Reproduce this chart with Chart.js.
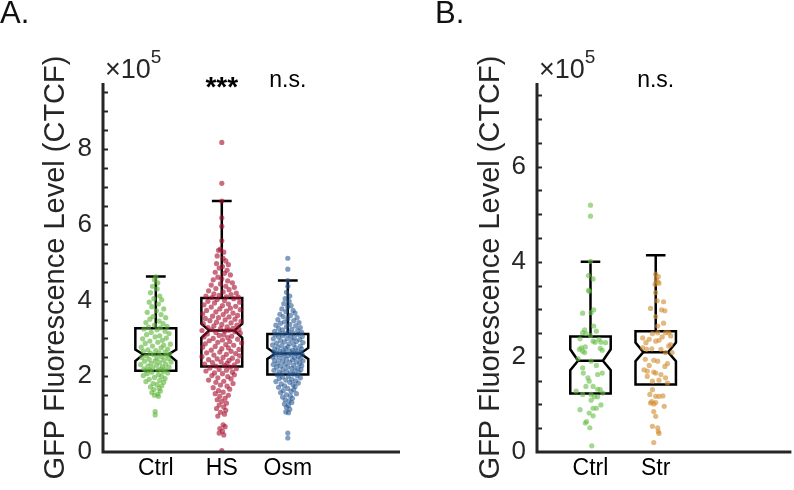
<!DOCTYPE html>
<html>
<head>
<meta charset="utf-8">
<script src="https://cdn.jsdelivr.net/npm/chart.js@4"></script>
<style>
  body { margin: 0; background: #fff; }
  #wrap { position: relative; width: 794px; height: 490px; overflow: hidden; }
  #wrap canvas { position: absolute; top: 0; }
</style>
</head>
<body>
<div id="wrap">
  <canvas id="chartA" width="430" height="490" style="left:0"></canvas>
  <canvas id="chartB" width="364" height="490" style="left:430px"></canvas>
</div>
<script>
// Panel A categories and box stats (values in units of 1e5 CTCF)
const groupsA = ['Ctrl', 'HS', 'Osm'];
const sigA = ['', '***', 'n.s.'];
const q1A = [2.15, 2.26, 2.05];
const medA = [2.58, 3.21, 2.60];
const q3A = [3.27, 4.07, 3.12];
const whiskA = [4.64, 6.63, 4.53];
const notchLoA = [2.40, 3.02, 2.46];
const notchHiA = [2.71, 3.39, 2.75];
const yTicksA = [0, 2, 4, 6, 8];

// Panel B
const groupsB = ['Ctrl', 'Str'];
const sigB = ['', 'n.s.'];
const q1B = [1.23, 1.42];
const medB = [1.92, 2.10];
const q3B = [2.43, 2.54];
const whiskB = [4.00, 4.14];
const notchLoB = [1.72, 1.91];
const notchHiB = [2.16, 2.30];
const yTicksB = [0, 2, 4, 6];

// Individual cells: [jitter (category units), value]
const ctrlA = [[0.00,4.63],[-0.02,4.55],[0.03,4.47],[-0.05,4.38],[0.02,4.31],[-0.08,4.21],[0.06,4.12],[-0.03,4.05],[0.09,4.02],[-0.10,3.96],[0.04,3.91],[-0.06,3.84],[0.12,3.78],[0.01,3.73],[-0.13,3.69],[0.08,3.63],[-0.04,3.58],[0.15,3.55],[-0.09,3.51],[0.05,3.46],[-0.15,3.42],[0.11,3.39],[-0.02,3.35],[0.17,3.32],[-0.11,3.30],[0.07,3.28],
  [-0.18,3.25],[0.02,3.23],[0.14,3.19],[-0.07,3.16],[0.20,3.13],[-0.14,3.10],[0.06,3.07],[-0.01,3.04],[0.16,3.01],[-0.20,2.99],[0.10,2.95],[-0.09,2.93],[0.03,2.90],[-0.16,2.87],[0.22,2.85],[0.12,2.82],[-0.05,2.80],[-0.22,2.77],[0.08,2.75],[0.18,2.72],[-0.12,2.70],[0.00,2.68],[-0.19,2.66],[0.14,2.64],[0.05,2.62],[-0.08,2.61],[0.21,2.59],
  [-0.03,2.57],[0.16,2.56],[-0.14,2.54],[0.09,2.52],[-0.21,2.50],[0.02,2.48],[0.19,2.47],[-0.10,2.45],[0.12,2.43],[-0.01,2.41],[-0.17,2.40],[0.23,2.38],[0.06,2.36],[-0.07,2.34],[0.15,2.32],[-0.23,2.31],[0.01,2.29],[-0.12,2.27],[0.10,2.25],[0.20,2.24],[-0.05,2.22],[-0.18,2.20],[0.07,2.19],[0.14,2.18],[-0.09,2.17],[0.03,2.16],[-0.15,2.15],
  [0.11,2.13],[-0.06,2.11],[0.18,2.09],[-0.13,2.07],[0.04,2.04],[-0.19,2.02],[0.09,2.00],[-0.02,1.97],[0.14,1.94],[-0.10,1.92],[0.06,1.89],[-0.15,1.86],[0.12,1.84],[-0.04,1.81],[0.02,1.78],[0.09,1.75],[-0.08,1.72],[0.05,1.68],[-0.03,1.65],[0.07,1.61],[-0.06,1.57],[0.03,1.53],[-0.02,1.50],[0.04,1.47],[-0.01,1.07],[-0.01,0.98]];

const hsA = [[0.00,8.18],[0.00,7.10],[0.00,6.63],[0.00,6.19],[0.00,5.96],[0.00,5.58],[-0.02,5.36],[-0.05,5.33],[0.03,5.28],[-0.07,5.18],[0.02,5.12],[0.06,5.05],[-0.08,4.98],[0.10,4.95],[0.01,4.90],[-0.04,4.86],[0.08,4.80],[-0.10,4.75],[0.04,4.72],[0.13,4.68],[-0.06,4.62],[0.00,4.58],[-0.13,4.55],[0.09,4.52],[0.16,4.47],[-0.02,4.44],[-0.16,4.41],[0.06,4.38],[0.19,4.35],[-0.09,4.32],[0.11,4.29],[-0.20,4.26],[0.02,4.23],[0.22,4.20],[-0.12,4.18],[0.14,4.16],[-0.04,4.14],[-0.24,4.12],[0.07,4.10],[0.25,4.09],[-0.15,4.08],
  [0.18,4.05],[-0.07,4.03],[0.04,4.00],[-0.21,3.98],[0.27,3.96],[-0.11,3.94],[0.10,3.91],[-0.27,3.89],[0.01,3.87],[0.21,3.85],[-0.16,3.83],[0.13,3.80],[-0.03,3.78],[0.28,3.76],[-0.23,3.74],[0.07,3.72],[-0.09,3.70],[0.17,3.67],[-0.29,3.65],[0.02,3.63],[0.24,3.61],[-0.14,3.59],[0.11,3.57],[-0.05,3.55],[-0.25,3.53],[0.20,3.51],[0.05,3.49],[-0.18,3.47],[0.29,3.45],[-0.08,3.43],[0.14,3.41],[-0.28,3.39],[0.00,3.37],[0.23,3.35],[-0.12,3.33],[0.08,3.31],[-0.21,3.29],[0.17,3.27],[-0.02,3.26],[0.26,3.24],[-0.15,3.23],[0.11,3.22],[-0.30,3.21],[0.05,3.20],
  [0.20,3.18],[-0.09,3.16],[0.28,3.14],[-0.22,3.12],[0.03,3.10],[-0.04,3.08],[0.15,3.06],[-0.27,3.04],[0.09,3.02],[-0.13,3.00],[0.24,2.98],[0.01,2.96],[-0.19,2.94],[0.12,2.92],[-0.06,2.90],[0.30,2.88],[-0.25,2.86],[0.06,2.84],[0.18,2.82],[-0.10,2.79],[-0.29,2.77],[0.10,2.75],[0.00,2.73],[0.26,2.71],[-0.16,2.69],[0.14,2.66],[-0.03,2.64],[-0.23,2.62],[0.21,2.60],[0.07,2.58],[-0.12,2.56],[0.27,2.54],[-0.30,2.52],[0.02,2.50],[0.16,2.48],[-0.07,2.46],[-0.20,2.44],[0.11,2.42],[0.24,2.40],[-0.01,2.38],[-0.14,2.36],[0.08,2.34],[-0.26,2.32],[0.19,2.30],[0.04,2.28],[-0.09,2.27],
  [0.13,2.24],[-0.18,2.22],[0.22,2.20],[-0.04,2.18],[0.07,2.16],[-0.24,2.14],[0.16,2.11],[-0.11,2.09],[0.01,2.07],[0.19,2.04],[-0.15,2.02],[0.09,1.99],[-0.06,1.96],[0.14,1.93],[-0.20,1.90],[0.03,1.87],[-0.09,1.84],[0.17,1.81],[-0.02,1.77],[0.08,1.74],[-0.13,1.70],[0.12,1.66],[-0.05,1.62],[0.02,1.58],[-0.10,1.54],[0.10,1.50],[-0.03,1.47],[0.05,1.42],[-0.07,1.38],[0.00,1.34],[0.07,1.29],[-0.04,1.24],[0.03,1.19],[-0.08,1.15],[0.06,1.10],[-0.02,1.05],[0.04,1.00],[-0.06,0.95],[0.02,0.72],[0.05,0.67],[-0.03,0.62],[0.01,0.55],[-0.04,0.50],[0.03,0.45],[0.00,0.04]];

const osmA = [[0.00,5.12],[0.00,4.83],[0.00,4.53],[0.00,4.38],[-0.02,4.22],[0.03,4.12],[-0.04,4.05],[0.02,3.98],[-0.06,3.92],[0.05,3.87],[0.00,3.83],[-0.09,3.78],[0.08,3.74],[-0.03,3.71],[0.11,3.67],[-0.12,3.64],[0.04,3.61],[-0.07,3.58],[0.14,3.55],[0.00,3.52],[-0.15,3.50],[0.09,3.47],[-0.05,3.44],[0.17,3.42],[-0.11,3.40],[0.03,3.37],[-0.18,3.35],[0.12,3.33],[-0.02,3.31],[0.19,3.29],[-0.14,3.27],[0.06,3.25],[-0.08,3.23],[0.15,3.21],[-0.20,3.19],[0.01,3.17],[0.21,3.16],[-0.12,3.15],[0.08,3.14],[-0.04,3.13],
  [0.16,3.11],[-0.19,3.10],[0.04,3.08],[-0.08,3.07],[0.22,3.05],[-0.14,3.04],[0.10,3.02],[-0.01,3.00],[-0.22,2.99],[0.18,2.97],[0.06,2.96],[-0.11,2.94],[0.13,2.92],[-0.05,2.91],[0.23,2.89],[-0.17,2.88],[0.02,2.86],[0.09,2.84],[-0.23,2.83],[-0.09,2.81],[0.19,2.80],[0.00,2.78],[-0.15,2.77],[0.12,2.75],[-0.03,2.73],[0.21,2.72],[-0.20,2.71],[0.07,2.69],[-0.07,2.68],[0.15,2.67],[-0.12,2.66],[0.03,2.65],[-0.21,2.64],[0.20,2.63],[0.09,2.62],[-0.04,2.61],[-0.16,2.61],[0.13,2.60],
  [-0.10,2.59],[0.05,2.58],[0.22,2.57],[-0.18,2.56],[0.01,2.55],[-0.06,2.53],[0.16,2.52],[-0.23,2.51],[0.10,2.50],[-0.13,2.48],[0.19,2.47],[-0.02,2.45],[0.07,2.44],[-0.20,2.42],[0.23,2.41],[-0.08,2.40],[0.13,2.38],[0.03,2.37],[-0.15,2.35],[0.18,2.34],[-0.04,2.32],[-0.22,2.31],[0.09,2.29],[0.21,2.28],[-0.11,2.27],[0.00,2.25],[-0.17,2.24],[0.15,2.22],[0.06,2.21],[-0.07,2.19],[0.20,2.18],[-0.21,2.16],[0.11,2.15],[-0.02,2.13],[-0.13,2.12],[0.17,2.10],[0.04,2.09],[-0.09,2.07],[0.08,2.06],
  [-0.16,2.04],[0.14,2.02],[0.01,2.00],[-0.08,1.98],[0.19,1.96],[-0.13,1.94],[0.06,1.92],[-0.03,1.90],[0.12,1.88],[-0.18,1.86],[0.03,1.84],[0.16,1.82],[-0.10,1.80],[0.08,1.78],[-0.05,1.75],[0.11,1.73],[-0.14,1.71],[0.00,1.68],[0.09,1.65],[-0.07,1.62],[0.05,1.60],[-0.11,1.57],[0.13,1.54],[-0.02,1.51],[0.04,1.48],[-0.08,1.45],[0.07,1.42],[-0.04,1.38],[0.02,1.35],[0.06,1.31],[-0.05,1.27],[0.01,1.23],[-0.02,1.18],[0.03,1.13],[-0.03,1.06],[0.01,1.04],[0.00,0.50],[0.00,0.37]];

const ctrlB = [[0,5.19],[0,4.96],[0,4.01],[-0.03,3.71],[0.04,3.64],[-0.03,3.40],[-0.02,3.38],[-0.12,2.92],[0.01,2.93],[0.05,2.99],[0.05,2.65],[-0.09,2.57],[-0.12,2.51],[-0.07,2.49],[0,2.45],[0.09,2.54],[0.13,2.37],[0.04,2.33],[0.07,2.31],[-0.16,2.38],[-0.14,2.19],[-0.08,2.21],[0.16,2.31],[0.23,2.30],[0.15,2.18],[0.18,2.14],[-0.17,2.16],[-0.12,2.12],[-0.09,2.09],[-0.19,1.96],[0.01,1.91],[-0.12,1.77],[-0.11,1.66],[0.09,1.82],[0.18,1.66],[0.11,1.63],[-0.04,1.56],[-0.02,1.49],[-0.07,1.38],[0.04,1.38],[0.11,1.32],[0.15,1.31],[-0.22,1.28],[-0.12,1.21],[0.01,1.21],[0.19,1.24],[0.06,1.16],[0.01,1.09],[0.11,1.16],[0.04,0.92],[0.09,0.92],[0.16,0.99],[-0.16,0.89],[-0.02,0.82],[0.04,0.76],[-0.06,0.64],[-0.08,0.61],[-0.01,0.51],[0.02,0.13]];

const strB = [[0,3.74],[0.04,3.69],[0.01,3.64],[0.03,3.58],[0.05,3.55],[-0.01,3.53],[0,3.35],[0.12,3.16],[0.02,3.18],[-0.08,3.02],[0.09,2.99],[0.14,2.97],[0,2.85],[0.12,2.71],[0.03,2.65],[0.03,2.51],[0.15,2.51],[0.20,2.51],[-0.05,2.49],[0.23,2.44],[-0.20,2.40],[0.10,2.42],[-0.10,2.37],[0,2.33],[0.05,2.35],[-0.15,2.30],[0.23,2.26],[0.20,2.23],[-0.20,2.19],[-0.14,2.16],[-0.06,2.17],[0.08,2.16],[0.15,2.09],[0.25,2.09],[-0.16,1.95],[-0.03,1.93],[0.03,1.91],[0.18,1.86],[-0.10,1.82],[0.14,1.80],[-0.18,1.73],[-0.13,1.70],[0,1.66],[0.08,1.63],[-0.03,1.68],[-0.13,1.59],[0.15,1.56],[-0.05,1.49],[0.05,1.51],[0.18,1.45],[-0.05,1.31],[-0.09,1.21],[0,1.17],[0.05,1.17],[0.11,1.18],[-0.06,1.06],[-0.08,1.03],[-0.03,1.01],[0,1.04],[0.13,0.96],[-0.03,0.85],[0,0.75],[-0.05,0.54],[0.03,0.51],[0.04,0.43],[0.05,0.39],[-0.03,0.20]];

const colorsA = ['rgba(96,182,58,0.62)', 'rgba(170,18,50,0.62)', 'rgba(38,88,146,0.58)'];
const colorsB = ['rgba(100,190,68,0.6)', 'rgba(208,142,50,0.62)'];

const FONT = "'Liberation Sans', Arial, Helvetica, sans-serif";
const INK = '#262626';
const BOX_HALF = 0.31;
const NOTCH_IN = 0.12;
const CAP_HALF = 0.15;

// draws the notched boxes, axis lines, ticks and the labels around the plot
const boxPlugin = {
  id: 'boxes',
  beforeDatasetsDraw(chart, args, o) {
    const { ctx, scales: { x, y } } = chart;
    ctx.save();
    ctx.strokeStyle = '#000';
    ctx.lineWidth = 2.5;
    ctx.lineJoin = 'miter';
    o.med.forEach((m, i) => {
      const c = i + 1;
      const L = x.getPixelForValue(c - BOX_HALF), R = x.getPixelForValue(c + BOX_HALF);
      const Li = x.getPixelForValue(c - BOX_HALF + NOTCH_IN), Ri = x.getPixelForValue(c + BOX_HALF - NOTCH_IN);
      const yq1 = y.getPixelForValue(o.q1[i]), yq3 = y.getPixelForValue(o.q3[i]);
      const ym = y.getPixelForValue(m), ylo = y.getPixelForValue(o.notchLo[i]), yhi = y.getPixelForValue(o.notchHi[i]);
      ctx.beginPath();
      ctx.moveTo(L, yq3); ctx.lineTo(R, yq3); ctx.lineTo(R, yhi); ctx.lineTo(Ri, ym);
      ctx.lineTo(R, ylo); ctx.lineTo(R, yq1); ctx.lineTo(L, yq1); ctx.lineTo(L, ylo);
      ctx.lineTo(Li, ym); ctx.lineTo(L, yhi); ctx.closePath();
      ctx.moveTo(Li, ym); ctx.lineTo(Ri, ym);
      // upper whisker and cap
      const cx = x.getPixelForValue(c), yw = y.getPixelForValue(o.whisk[i]);
      ctx.moveTo(cx, yq3); ctx.lineTo(cx, yw);
      ctx.moveTo(x.getPixelForValue(c - CAP_HALF), yw); ctx.lineTo(x.getPixelForValue(c + CAP_HALF), yw);
      ctx.stroke();
    });
    ctx.restore();
  },
  afterDraw(chart, args, o) {
    const { ctx, chartArea: a, scales: { x, y } } = chart;
    ctx.save();
    ctx.strokeStyle = INK;
    ctx.lineWidth = 3;
    ctx.beginPath();
    ctx.moveTo(a.left, a.top); ctx.lineTo(a.left, a.bottom); ctx.lineTo(a.right, a.bottom);
    ctx.stroke();
    ctx.lineWidth = 2;
    ctx.beginPath();
    for (let v = 0.5; v < y.max; v += 0.5) {
      const py = Math.round(y.getPixelForValue(v)) + 0.5;
      ctx.moveTo(a.left, py); ctx.lineTo(a.left + 5, py);
    }
    ctx.stroke();

    ctx.fillStyle = '#111';
    ctx.textBaseline = 'alphabetic';
    ctx.textAlign = 'left';
    ctx.font = '31px ' + FONT;
    ctx.fillText(o.panel, o.panelX, 23);
    ctx.fillStyle = INK;
    ctx.font = '27px ' + FONT;
    ctx.fillText('\u00d710', a.left + 2, 78);
    const w = ctx.measureText('\u00d710').width;
    ctx.font = '19px ' + FONT;
    ctx.fillText('5', a.left + 2 + w, 63);

    ctx.fillStyle = '#000';
    ctx.textAlign = 'center';
    o.sig.forEach((s, i) => {
      if (!s) return;
      const px = x.getPixelForValue(i + 1);
      if (s === '***') {
        ctx.font = 'bold 28px ' + FONT;
        ctx.fillText(s, px, 96);
      } else {
        ctx.font = '23px ' + FONT;
        ctx.fillText(s, px, 87);
      }
    });
    ctx.restore();
  }
};

function makeChart(id, groups, sets, colors, stats, opts) {
  const datasets = sets.map((pts, i) => ({
    data: pts.map(p => ({ x: i + 1 + p[0], y: p[1] })),
    backgroundColor: colors[i],
    borderWidth: 0,
    pointRadius: 2.6,
    pointHoverRadius: 2.6
  }));
  return new Chart(document.getElementById(id), {
    type: 'scatter',
    data: { datasets: datasets },
    plugins: [boxPlugin],
    options: {
      responsive: false,
      animation: false,
      events: [],
      layout: { padding: { left: 0, top: 83, right: opts.padRight, bottom: 0 } },
      plugins: {
        legend: { display: false },
        tooltip: { enabled: false },
        boxes: Object.assign({}, stats, { panel: opts.panel, panelX: opts.panelX })
      },
      scales: {
        x: {
          type: 'linear',
          min: opts.xMin,
          max: opts.xMax,
          grid: { display: false, drawTicks: false },
          border: { display: false },
          afterBuildTicks: s => { s.ticks = groups.map((g, i) => ({ value: i + 1 })); },
          afterFit: s => { s.height = 38; },
          ticks: {
            padding: 3,
            color: '#000',
            font: { family: FONT, size: 23 },
            callback: v => groups[Math.round(v) - 1]
          }
        },
        y: {
          min: 0,
          max: opts.yMax,
          grid: { display: false, drawTicks: false },
          border: { display: false },
          afterBuildTicks: s => { s.ticks = opts.yTicks.map(v => ({ value: v })); },
          afterFit: s => { s.width = opts.axisX; },
          ticks: {
            padding: 11,
            color: INK,
            font: { family: FONT, size: 26 },
            callback: v => String(v)
          },
          title: {
            display: true,
            text: 'GFP Fluorescence Level (CTCF)',
            color: INK,
            font: { family: FONT, size: 29 },
            padding: { top: opts.titlePad, bottom: 0 }
          }
        }
      }
    }
  });
}

makeChart('chartA', groupsA, [ctrlA, hsA, osmA], colorsA,
  { q1: q1A, med: medA, q3: q3A, whisk: whiskA, notchLo: notchLoA, notchHi: notchHiA, sig: sigA },
  { panel: 'A.', panelX: 0, xMin: 0.2, xMax: 4.7, yMax: 9.75, yTicks: yTicksA, axisX: 103, titlePad: 38.6, padRight: 30 });

makeChart('chartB', groupsB, [ctrlB, strB], colorsB,
  { q1: q1B, med: medB, q3: q3B, whisk: whiskB, notchLo: notchLoB, notchHi: notchHiB, sig: sigB },
  { panel: 'B.', panelX: 5, xMin: 0.18, xMax: 4.08, yMax: 7.76, yTicks: yTicksB, axisX: 107, titlePad: 43.6, padRight: 0 });
</script>
</body>
</html>
